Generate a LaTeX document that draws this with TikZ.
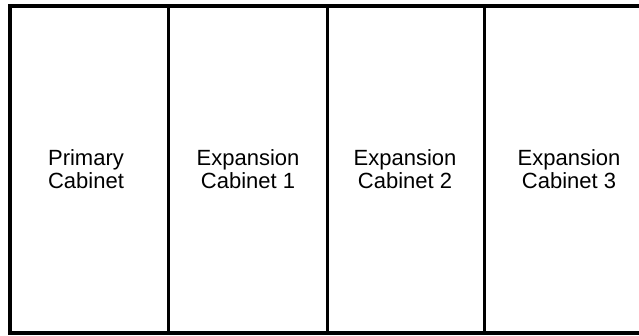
\documentclass[tikz,border=0pt]{standalone}
\usepackage{fontspec}
\setmainfont{Liberation Sans}
\usepackage{tikz}
\usetikzlibrary{positioning}

\tikzset{
    cabinet/.style={align=center, font=\fontsize{22}{23.5}\selectfont},
    wall/.style={line width=3.4pt}
}

\begin{document}
\begin{tikzpicture}[x=1pt, y=1pt]
    \useasboundingbox (0,0) rectangle (639,336);
    % Khung ngoài (bên phải bị cắt)
    \draw[wall] (10,330) -- (639,330);
    \draw[wall] (10,3) -- (639,3);
    \draw[wall] (10,331.7) -- (10,1.3);
    
    % Các vách ngăn
    \draw[wall, line width=3pt] (168,330) -- (168,3);
    \draw[wall, line width=3pt] (327,330) -- (327,3);
    \draw[wall, line width=3pt] (484,330) -- (484,3);
    
    % Tên các tủ
    \node[cabinet] (primary) at (86,167) {Primary\\Cabinet};
    \node[cabinet] (exp1) at (248,167) {Expansion\\Cabinet 1};
    \node[cabinet] (exp2) at (405,167) {Expansion\\Cabinet 2};
    \node[cabinet] (exp3) at (569,167) {Expansion\\Cabinet 3};
\end{tikzpicture}
\end{document}
